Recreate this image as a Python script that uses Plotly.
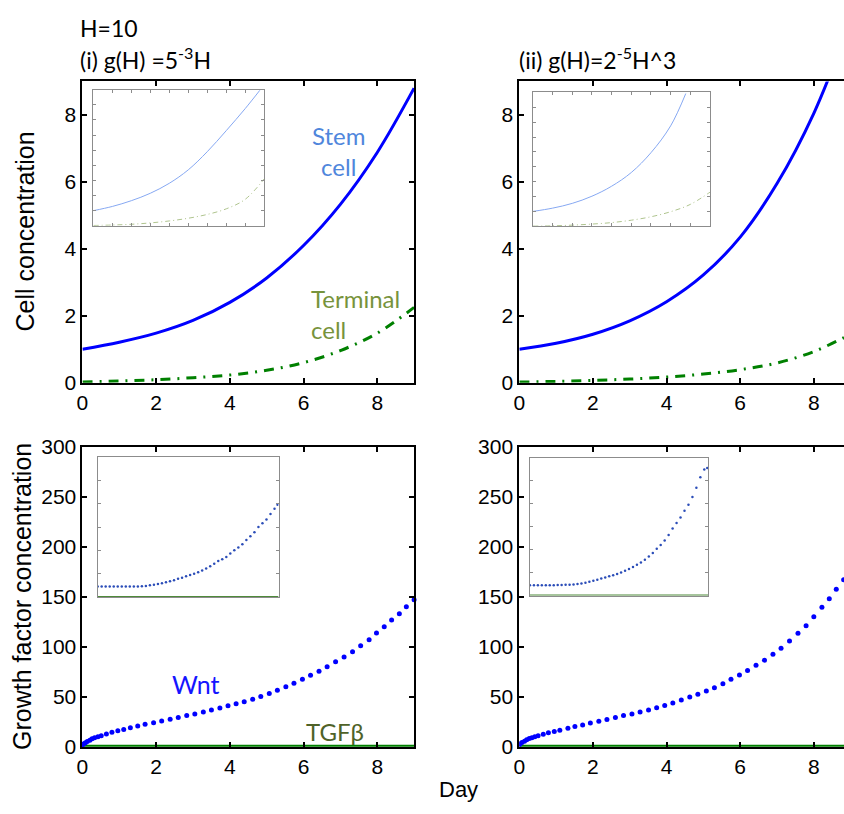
import plotly.graph_objects as go

W, H = 844, 814

# ---------------- data ----------------
# Top panels: cell concentrations (main)
stem_day_i = [0, 1, 2, 3, 4, 5, 6, 7, 8, 9]
stem_i = [1.0, 1.21, 1.48, 1.86, 2.4, 3.13, 4.1, 5.33, 6.88, 8.8]
term_day_i = [0, 1, 2, 3, 4, 5, 6, 7, 8, 9]
term_i = [0.02, 0.05, 0.09, 0.15, 0.23, 0.37, 0.6, 0.96, 1.48, 2.25]

stem_day_ii = [0, 1, 2, 3, 4, 5, 6, 7, 8, 8.82]
stem_ii = [1.0, 1.18, 1.45, 1.85, 2.42, 3.22, 4.35, 5.95, 8.05, 10.3]
term_day_ii = [0, 1, 2, 3, 4, 5, 6, 7, 8, 8.82]
term_ii = [0.02, 0.04, 0.07, 0.11, 0.17, 0.26, 0.39, 0.59, 0.93, 1.35]

# Top insets
ins_stem_day_i = [0, 1, 2, 3, 4, 5, 6, 7, 8, 8.77]
ins_stem_i = [1.0, 1.28, 1.66, 2.15, 2.81, 3.7, 4.9, 6.29, 7.75, 8.96]
ins_term_day_i = [0, 1, 2, 3, 4, 5, 6, 7, 8, 9]
ins_term_i = [0.02, 0.05, 0.1, 0.19, 0.32, 0.5, 0.75, 1.12, 1.75, 3.1]

ins_stem_day_ii = [0, 1, 2, 3, 4, 5, 6, 7, 7.77]
ins_stem_ii = [1.01, 1.23, 1.55, 2.03, 2.7, 3.62, 4.95, 6.75, 8.92]
ins_term_day_ii = [0, 1, 2, 3, 4, 5, 6, 7, 8, 9]
ins_term_ii = [0.02, 0.04, 0.09, 0.16, 0.26, 0.42, 0.65, 0.99, 1.48, 2.3]

# Bottom panels: growth factor concentrations (main)
wnt_day_i = [0, 0.04, 0.08, 0.13, 0.2, 0.26, 0.33, 0.42, 0.51,
             0.65, 0.8, 0.96, 1.12, 1.3, 1.5, 1.7, 1.93,
             2.15, 2.38, 2.6, 2.83, 3.05, 3.28, 3.5, 3.73, 3.95,
             4.17, 4.39, 4.62, 4.84, 5.07, 5.29, 5.52, 5.74, 5.97,
             6.19, 6.42, 6.64, 6.87, 7.1, 7.33, 7.55, 7.78, 7.98,
             8.19, 8.39, 8.6, 8.79, 9.0]
wnt_i = [1.9, 2.9, 3.9, 5.2, 6.5, 7.8, 9, 10, 11,
         12.6, 14.3, 15.9, 17.2, 18.8, 20.7, 22.4, 24,
         25.6, 27.5, 29.2, 31.1, 32.7, 34.7, 36.6, 38.6, 40.8,
         42.8, 45, 47.3, 50.2, 53.1, 56.4, 60, 63.5, 67.4,
         71.3, 75.5, 80, 85, 89.7, 95, 100.8, 107, 113.7,
         120, 126.7, 133, 140, 146.8]

wnt_day_ii = [0, 0.02, 0.07, 0.14, 0.2, 0.27, 0.34, 0.42, 0.51,
              0.65, 0.79, 0.95, 1.1, 1.32, 1.51, 1.72, 1.93,
              2.16, 2.38, 2.61, 2.83, 3.06, 3.28, 3.51, 3.73, 3.95,
              4.17, 4.4, 4.63, 4.85, 5.08, 5.3, 5.53, 5.75, 5.98,
              6.2, 6.43, 6.66, 6.89, 7.11, 7.34, 7.57, 7.79, 8.0,
              8.22, 8.42, 8.61, 8.81]
wnt_ii = [1.9, 2.9, 4.2, 5.5, 6.8, 8.1, 9, 10, 11,
          12.3, 13.9, 15.2, 16.5, 18.5, 20.1, 21.7, 23.6,
          25.3, 27.2, 29.2, 31.1, 32.7, 34.7, 36.6, 38.9, 41.1,
          43.7, 46.6, 49.6, 52.5, 55.7, 59, 62.8, 67.4, 71.6,
          76.1, 81.3, 86.5, 92.3, 98.5, 105.6, 113.4, 121, 130,
          139.3, 148, 157.4, 167]

tgf_day_i = [0, 9]
tgf_i = [0, 0]
tgf_day_ii = [0, 8.82]
tgf_ii = [0, 0]

# Bottom insets
ins_wnt_day = [0, 0.2, 0.4, 0.6, 0.8, 1.0, 1.2, 1.4, 1.6, 1.8, 2.0, 2.2, 2.4, 2.6, 2.8,
               3.0, 3.2, 3.4, 3.6, 3.8, 4.0, 4.2, 4.4, 4.6, 4.8, 5.0, 5.2, 5.4, 5.6, 5.8,
               6.0, 6.2, 6.4, 6.6, 6.8, 7.0, 7.2, 7.4, 7.6, 7.8, 8.0, 8.2, 8.4, 8.6, 8.8, 8.95]
ins_wnt_i = [22.3, 22.3, 22.3, 22.3, 22.3, 22.3, 22.3, 22.4, 22.4, 22.5, 22.6, 23.0, 23.6, 25.0, 26.5,
             28.0, 29.5, 31.5, 33.5, 36.0, 39.0, 41.5, 44.5, 47.0, 50.0, 53.0, 57.0, 61.0, 66.0, 71.0,
             77.0, 81.0, 86.0, 93.0, 100.0, 106.0, 113.0, 122.0, 130.0, 139.0, 150.0, 158.0, 166.0, 178.0, 189.0, 198.0]
ins_wnt_ii = [22.5, 22.5, 22.5, 22.5, 22.5, 22.5, 22.6, 22.8, 23.0, 23.3, 23.6, 24.2, 25.0, 26.5, 28.0,
              30.0, 32.0, 34.5, 37.0, 39.5, 42.0, 44.5, 47.0, 50.5, 54.0, 58.0, 62.0, 67.0, 72.0, 78.0,
              85.0, 93.0, 102.0, 110.0, 120.0, 132.0, 146.0, 158.0, 170.0, 185.0, 198.0, 215.0, 235.0, 258.0, 275.0, 278.0]
ins_tgf_day = [0, 9]
ins_tgf = [0, 0]

# ---------------- style ----------------
BLUE = "#0000FF"
GREEN = "#008000"
SANS = "Liberation Sans, Arial, sans-serif"
CAL = "Lato, sans-serif"


def px(x):
    return x / W


def py(y):
    return 1 - y / H


fig = go.Figure()

DASHDOT = "10px,7px,2px,7px"
# main top
fig.add_trace(go.Scatter(x=stem_day_i, y=stem_i, mode="lines", line=dict(color=BLUE, width=3, shape="spline"), xaxis="x", yaxis="y"))
fig.add_trace(go.Scatter(x=term_day_i, y=term_i, mode="lines", line=dict(color=GREEN, width=3, dash=DASHDOT, shape="spline"), xaxis="x", yaxis="y"))
fig.add_trace(go.Scatter(x=stem_day_ii, y=stem_ii, mode="lines", line=dict(color=BLUE, width=3, shape="spline"), xaxis="x2", yaxis="y2"))
fig.add_trace(go.Scatter(x=term_day_ii, y=term_ii, mode="lines", line=dict(color=GREEN, width=3, dash=DASHDOT, shape="spline"), xaxis="x2", yaxis="y2"))
# main bottom
fig.add_trace(go.Scatter(x=tgf_day_i, y=tgf_i, mode="lines", line=dict(color=GREEN, width=4), xaxis="x3", yaxis="y3"))
fig.add_trace(go.Scatter(x=wnt_day_i, y=wnt_i, mode="markers", marker=dict(color=BLUE, size=5), cliponaxis=False, xaxis="x3", yaxis="y3"))
fig.add_trace(go.Scatter(x=tgf_day_ii, y=tgf_ii, mode="lines", line=dict(color=GREEN, width=4), xaxis="x4", yaxis="y4"))
fig.add_trace(go.Scatter(x=wnt_day_ii, y=wnt_ii, mode="markers", marker=dict(color=BLUE, size=5), xaxis="x4", yaxis="y4"))
# insets top
fig.add_trace(go.Scatter(x=ins_stem_day_i, y=ins_stem_i, mode="lines", line=dict(color="#86A8F2", width=1, shape="spline"), xaxis="x5", yaxis="y5"))
fig.add_trace(go.Scatter(x=ins_term_day_i, y=ins_term_i, mode="lines", line=dict(color="#AFC48E", width=1, dash="5px,3px,1px,3px", shape="spline"), xaxis="x5", yaxis="y5"))
fig.add_trace(go.Scatter(x=ins_stem_day_ii, y=ins_stem_ii, mode="lines", line=dict(color="#86A8F2", width=1, shape="spline"), xaxis="x6", yaxis="y6"))
fig.add_trace(go.Scatter(x=ins_term_day_ii, y=ins_term_ii, mode="lines", line=dict(color="#AFC48E", width=1, dash="5px,3px,1px,3px", shape="spline"), xaxis="x6", yaxis="y6"))
# insets bottom
fig.add_trace(go.Scatter(x=ins_tgf_day, y=ins_tgf, mode="lines", line=dict(color="#4E8A3A", width=2), xaxis="x7", yaxis="y7"))
fig.add_trace(go.Scatter(x=ins_wnt_day, y=ins_wnt_i, mode="markers", marker=dict(color="#2B4DB8", size=2.5), xaxis="x7", yaxis="y7"))
fig.add_trace(go.Scatter(x=ins_tgf_day, y=ins_tgf, mode="lines", line=dict(color="#4E8A3A", width=2), xaxis="x8", yaxis="y8"))
fig.add_trace(go.Scatter(x=ins_wnt_day, y=ins_wnt_ii, mode="markers", marker=dict(color="#2B4DB8", size=2.5), xaxis="x8", yaxis="y8"))

main_ax = dict(showline=True, linecolor="black", linewidth=2, mirror="ticks",
               ticks="inside", ticklen=5, tickwidth=1.5, tickcolor="black",
               showgrid=False, zeroline=False,
               tickfont=dict(family=SANS, size=21, color="black"))
ins_ax = dict(showline=True, linecolor="#8C8C8C", linewidth=1, mirror="ticks",
              ticks="inside", ticklen=3, tickwidth=1, tickcolor="#8C8C8C",
              showgrid=False, zeroline=False, showticklabels=False)

# domains
TOP = [py(381.5), py(71.5)]
BOT = [py(756), py(447.3)]
LEFT = [px(77), px(411)]
RIGHT = [px(517), 1.0]

fig.update_layout(
    width=W, height=H, margin=dict(l=0, r=0, t=0, b=0),
    paper_bgcolor="white", plot_bgcolor="white", showlegend=False,
    xaxis=dict(main_ax, domain=LEFT, range=[0, 9], dtick=2, anchor="y"),
    yaxis=dict(main_ax, domain=TOP, range=[0, 9], dtick=2, anchor="x"),
    xaxis2=dict(main_ax, domain=RIGHT, range=[0, 8.82], dtick=2, anchor="y2"),
    yaxis2=dict(main_ax, domain=TOP, range=[0, 9], dtick=2, anchor="x2", mirror=False),
    xaxis3=dict(main_ax, domain=LEFT, range=[0, 9], dtick=2, anchor="y3"),
    yaxis3=dict(main_ax, domain=BOT, range=[0, 300], dtick=50, anchor="x3"),
    xaxis4=dict(main_ax, domain=RIGHT, range=[0, 8.82], dtick=2, anchor="y4"),
    yaxis4=dict(main_ax, domain=BOT, range=[0, 300], dtick=50, anchor="x4", mirror=False),
    xaxis5=dict(ins_ax, domain=[px(88), px(260)], range=[0, 9], dtick=1, anchor="y5"),
    yaxis5=dict(ins_ax, domain=[py(220), py(80)], range=[0, 9], dtick=1, anchor="x5"),
    xaxis6=dict(ins_ax, domain=[px(530.7), px(709)], range=[0, 9], dtick=1, anchor="y6"),
    yaxis6=dict(ins_ax, domain=[py(220.7), py(82.7)], range=[0, 9], dtick=1, anchor="x6"),
    xaxis7=dict(ins_ax, domain=[px(92.3), px(274.5)], range=[0, 9], ticks="", anchor="y7"),
    yaxis7=dict(ins_ax, domain=[py(602), py(458)], range=[0, 300], dtick=50, anchor="x7"),
    xaxis8=dict(ins_ax, domain=[px(527.7), px(707.3)], range=[0, 9], ticks="", anchor="y8"),
    yaxis8=dict(ins_ax, domain=[py(600.5), py(459)], range=[0, 300], dtick=50, anchor="x8"),
)

ann = [
    dict(text="H=10", x=px(73), y=py(16), xanchor="left", yanchor="middle",
         font=dict(family=CAL, size=23, color="black")),
    dict(text="(i) g(H) =5<sup>-3</sup>H", x=px(73), y=py(48), xanchor="left", yanchor="middle",
         font=dict(family=CAL, size=23, color="black")),
    dict(text="(ii) g(H)=2<sup>-5</sup>H^3", x=px(515), y=py(48), xanchor="left", yanchor="middle",
         font=dict(family=CAL, size=23, color="black")),
    dict(text="Cell concentration", x=px(19), y=py(226), textangle=-90, xanchor="center", yanchor="middle",
         font=dict(family=SANS, size=25, color="black")),
    dict(text="Growth factor concentration", x=px(16), y=py(601), textangle=-90, xanchor="center", yanchor="middle",
         font=dict(family=SANS, size=25, color="black")),
    dict(text="Day", x=px(456), y=py(800), xanchor="center", yanchor="middle",
         font=dict(family=SANS, size=22, color="black")),
    dict(text="Stem<br>cell", x=px(335), y=py(143.5), xanchor="center", yanchor="middle", align="center",
         font=dict(family=CAL, size=24, color="#4F86DC")),
    dict(text="Terminal<br>cell", x=px(305), y=py(310.5), xanchor="left", yanchor="middle", align="left",
         font=dict(family=CAL, size=24, color="#77933C")),
    dict(text="Wnt", x=px(191), y=py(692), xanchor="center", yanchor="middle",
         font=dict(family=CAL, size=25, color="#1515FF")),
    dict(text="TGFβ", x=px(331), y=py(740), xanchor="center", yanchor="middle",
         font=dict(family=CAL, size=24, color="#4F6228")),
]
for a in ann:
    a.update(xref="paper", yref="paper", showarrow=False)
fig.update_layout(annotations=ann)

fig.write_html("out.html", post_script="document.body.style.margin='0px';")
